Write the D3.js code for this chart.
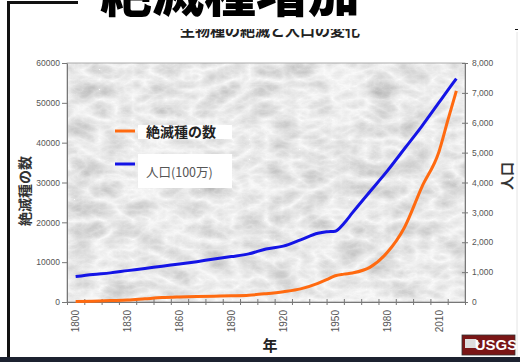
<!DOCTYPE html>
<html><head><meta charset="utf-8">
<script src="https://cdn.jsdelivr.net/npm/d3@7"></script>
<style>body{margin:0;background:#fff}svg{display:block}</style>
</head><body>
<svg id="c" width="520" height="362"></svg>
<script>
const years = [1800,1810,1820,1830,1840,1850,1860,1870,1880,1890,1900,1910,1920,1930,1940,1945,1950,1955,1960,1970,1980,1990,2000,2010,2015,2020];
const extinct = [100,200,350,500,800,1100,1250,1350,1450,1550,1700,2100,2600,3300,4700,5600,6600,7000,7300,8700,12400,18700,28800,37800,45500,53000];
const population = [850,920,975,1050,1120,1200,1270,1350,1440,1520,1610,1775,1870,2080,2300,2350,2370,2630,2990,3690,4380,5130,5880,6680,7080,7480];
const xLabelYears = [1800,1830,1860,1890,1920,1950,1980,2010];
const leftTicks = [0,10000,20000,30000,40000,50000,60000];
const rightTicks = [0,1000,2000,3000,4000,5000,6000,7000,8000];
const title = "絶滅種増加";
const subtitle = "生物種の絶滅と人口の変化";
const seriesNames = ["絶滅種の数","人口(100万)"];
const xTitle = "年", yLeftTitle = "絶滅種の数", yRightTitle = "人口";

const svg = d3.select("#c");
const L=67,R=465,T=63,B=302;
const x = d3.scaleLinear().domain([1795,2025]).range([L,R]);
const yL = d3.scaleLinear().domain([0,60000]).range([B,T]);
const yR = d3.scaleLinear().domain([0,8000]).range([B,T]);

const defs = svg.append("defs");
const f = defs.append("filter").attr("id","marble").attr("x",0).attr("y",0).attr("width",1).attr("height",1);
f.append("feTurbulence").attr("type","turbulence").attr("baseFrequency","0.03 0.05").attr("numOctaves",5).attr("seed",11).attr("result","t");
f.append("feColorMatrix").attr("in","t").attr("type","matrix")
 .attr("values","-0.5 0 0 0 0.97  -0.5 0 0 0 0.97  -0.5 0 0 0 0.97  0 0 0 0 1");

// frame
svg.append("rect").attr("x",8.5).attr("y",2.5).attr("width",508).attr("height",356).attr("fill","none").attr("stroke","#111").attr("stroke-width",3);
svg.append("line").attr("x1",517).attr("x2",517).attr("y1",30).attr("y2",358).attr("stroke","#fff").attr("stroke-width",5);
svg.append("line").attr("x1",517).attr("x2",517).attr("y1",32).attr("y2",358).attr("stroke","#e4e4e4").attr("stroke-width",1);
svg.append("rect").attr("x",0).attr("y",357).attr("width",520).attr("height",5).attr("fill","#1c2230");

// subtitle (partly hidden under title box)
svg.append("text").attr("x",270).attr("y",36).attr("text-anchor","middle")
 .attr("font-family","Noto Sans CJK JP").attr("font-weight","bold").attr("font-size",15).attr("fill","#222").text(subtitle);
svg.append("rect").attr("x",78).attr("y",0).attr("width",442).attr("height",29).attr("fill","#fff");
svg.append("text").attr("x",230).attr("y",12).attr("text-anchor","middle")
 .attr("font-family","Noto Sans CJK JP").attr("font-weight","900").attr("font-size",52).attr("fill","#000").text(title);

// plot background
svg.append("rect").attr("x",L).attr("y",T).attr("width",R-L).attr("height",B-T).attr("filter","url(#marble)");
svg.append("rect").attr("x",L).attr("y",T).attr("width",R-L).attr("height",B-T).attr("fill","none").attr("stroke","#999").attr("stroke-width",0.8);

// axes
const axStyle = g => { g.selectAll("path,line").attr("stroke","#777"); g.selectAll("text").attr("fill","#555").attr("font-family","Liberation Sans, Arial"); };
svg.append("g").attr("transform",`translate(${L},0)`)
 .call(d3.axisLeft(yL).tickValues(leftTicks).tickFormat(d3.format("d")).tickSize(5).tickSizeOuter(0))
 .call(axStyle).call(g=>g.selectAll("text").attr("font-size",8.5).attr("x",-7));
svg.append("g").attr("transform",`translate(${R},0)`)
 .call(d3.axisRight(yR).tickValues(rightTicks).tickFormat(d3.format(",")).tickSize(3).tickSizeOuter(0))
 .call(axStyle).call(g=>{g.selectAll(".tick line").attr("x1",-3); g.selectAll("text").attr("font-size",8.5).attr("x",7);});
const xt = d3.range(1795,2026,10);
svg.append("g").attr("transform",`translate(0,${B})`)
 .call(d3.axisBottom(x).tickValues(xt).tickFormat("").tickSize(3).tickSizeOuter(0))
 .call(axStyle).call(g=>g.selectAll(".tick line").attr("y1",-3));
svg.append("g").selectAll("text").data(xLabelYears).join("text")
 .attr("transform",d=>`translate(${x(d)+3.5},${B+8}) rotate(-90)`).attr("text-anchor","end")
 .attr("font-size",10).attr("fill","#555").attr("font-family","Liberation Sans, Arial").text(d=>d);

// lines
const data = years.map((y,i)=>({y,e:extinct[i],p:population[i]}));
svg.append("path").datum(data).attr("fill","none").attr("stroke","#1414e6").attr("stroke-width",3)
 .attr("d",d3.line().x(d=>x(d.y)).y(d=>yR(d.p)).curve(d3.curveMonotoneX));
svg.append("path").datum(data).attr("fill","none").attr("stroke","#ff6a10").attr("stroke-width",3)
 .attr("d",d3.line().x(d=>x(d.y)).y(d=>yL(d.e)).curve(d3.curveMonotoneX));

// legend
svg.append("rect").attr("x",138).attr("y",125).attr("width",94).attr("height",14).attr("fill","#fff");
svg.append("rect").attr("x",138).attr("y",154).attr("width",94).attr("height",34).attr("fill","#fff");
svg.append("line").attr("x1",115).attr("x2",135).attr("y1",131).attr("y2",131).attr("stroke","#ff6a10").attr("stroke-width",3);
svg.append("line").attr("x1",115).attr("x2",135).attr("y1",164).attr("y2",164).attr("stroke","#1414e6").attr("stroke-width",3);
svg.append("text").attr("x",146).attr("y",137).attr("font-family","Noto Sans CJK JP").attr("font-weight","bold").attr("font-size",14).attr("fill","#222").text(seriesNames[0]);
svg.append("text").attr("x",146).attr("y",177).attr("font-family","Noto Sans CJK JP").attr("font-size",12.5).attr("fill","#555").text(seriesNames[1]);

// axis titles
svg.append("text").attr("transform","translate(30,191) rotate(-90)").attr("text-anchor","middle")
 .attr("font-family","Noto Sans CJK JP").attr("font-weight","bold").attr("font-size",14).attr("fill","#333").text(yLeftTitle);
svg.append("text").attr("transform","translate(512,176) rotate(-90)").attr("text-anchor","middle")
 .attr("font-family","Noto Sans CJK JP").attr("font-weight","bold").attr("font-size",14).attr("fill","#333").text(yRightTitle);
svg.append("text").attr("x",270).attr("y",351).attr("text-anchor","middle")
 .attr("font-family","Noto Sans CJK JP").attr("font-weight","bold").attr("font-size",15).attr("fill","#222").text(xTitle);

// USGS badge
const lg = svg.append("g").attr("transform","translate(462,335)");
lg.append("rect").attr("width",53).attr("height",20).attr("fill","#7a1616").attr("stroke","#333").attr("stroke-width",0.8);
lg.append("path").attr("d","M3,4 L14,4 L18,8.5 L14,13 L3,13 Z").attr("fill","#ddd");
lg.append("text").attr("x",34).attr("y",15).attr("text-anchor","middle").attr("font-family","Liberation Sans Narrow, Liberation Sans").attr("font-weight","bold").attr("font-size",15).attr("fill","#fff").text("USGS");
</script>
</body></html>
